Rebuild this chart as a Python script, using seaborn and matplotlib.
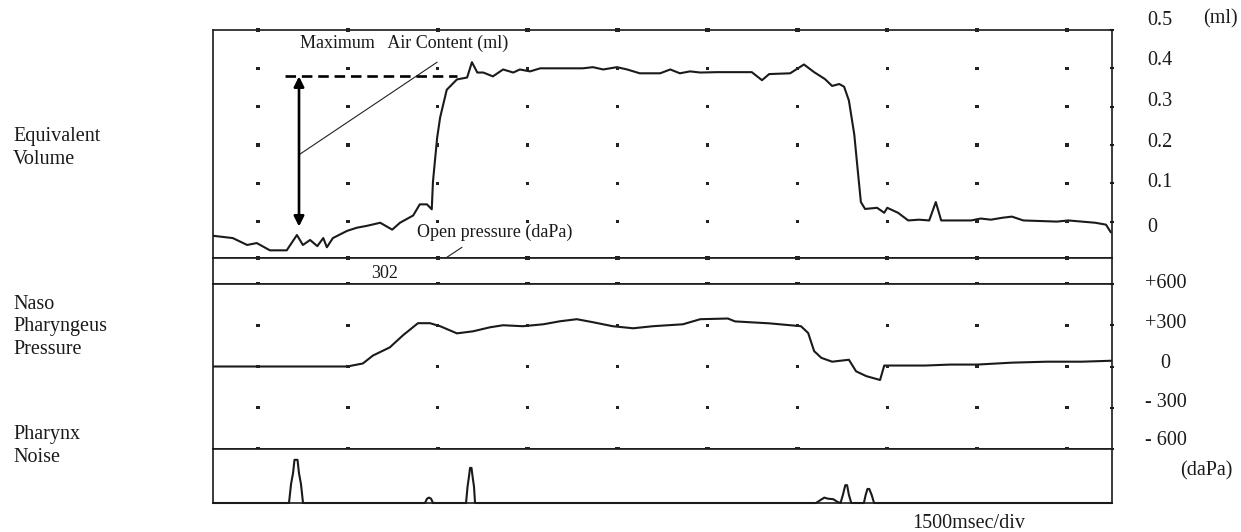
import matplotlib
matplotlib.use('Agg')
import matplotlib.pyplot as plt
from matplotlib.transforms import ScaledTranslation
import seaborn as sns
import pandas as pd

sns.set_theme(style='white')
plt.rcParams['font.family'] = ['Liberation Serif', 'DejaVu Serif']

# ---------------- data (time in seconds, 1500 ms per division) ----------------
vol_t = [0.00, 0.33, 0.57, 0.73, 0.95, 1.23, 1.40, 1.50, 1.62, 1.74, 1.84, 1.90, 2.00,
         2.24, 2.40, 2.57, 2.79, 2.99, 3.12, 3.34, 3.45, 3.57, 3.65, 3.67, 3.74, 3.79,
         3.90, 4.07, 4.24, 4.32, 4.41, 4.51, 4.67, 4.84, 5.01, 5.12, 5.29, 5.46, 6.17,
         6.34, 6.51, 6.74, 6.91, 7.12, 7.46, 7.63, 7.79, 7.96, 8.13, 8.41, 8.76, 8.99,
         9.16, 9.28, 9.63, 9.86, 10.03, 10.21, 10.33, 10.45, 10.53, 10.61, 10.70, 10.76,
         10.81, 10.88, 11.08, 11.20, 11.25, 11.43, 11.60, 11.78, 11.95, 12.06, 12.15,
         12.65, 12.81, 12.98, 13.17, 13.33, 13.52, 14.08, 14.27, 14.72, 14.90, 14.98]
vol_ml = [-0.037, -0.043, -0.061, -0.056, -0.075, -0.075, -0.035, -0.061, -0.048, -0.064,
          -0.043, -0.067, -0.043, -0.024, -0.016, -0.011, -0.003, -0.021, -0.003, 0.016,
          0.045, 0.045, 0.032, 0.104, 0.219, 0.272, 0.344, 0.371, 0.376, 0.416, 0.389,
          0.389, 0.379, 0.397, 0.389, 0.397, 0.392, 0.400, 0.400, 0.403, 0.397, 0.403,
          0.397, 0.387, 0.387, 0.397, 0.387, 0.392, 0.389, 0.390, 0.390, 0.390, 0.369,
          0.385, 0.387, 0.410, 0.390, 0.372, 0.354, 0.359, 0.352, 0.316, 0.227, 0.130,
          0.051, 0.033, 0.036, 0.023, 0.036, 0.023, 0.003, 0.005, 0.003, 0.051, 0.003,
          0.003, 0.008, 0.005, 0.010, 0.013, 0.003, 0.000, 0.003, -0.003, -0.008, -0.028]

pres_t = [0.00, 2.24, 2.50, 2.67, 2.95, 3.17, 3.42, 3.62, 3.79, 4.07, 4.34, 4.62, 4.84,
          5.17, 5.51, 5.79, 6.07, 6.34, 6.67, 7.01, 7.34, 7.84, 8.13, 8.59, 8.71, 9.28,
          9.81, 9.93, 10.03, 10.15, 10.33, 10.61, 10.73, 10.90, 11.13, 11.20, 11.36,
          11.88, 12.30, 12.75, 13.33, 13.92, 14.50, 15.00]
pres_dapa = [0, 0, 22, 80, 139, 227, 315, 315, 293, 241, 256, 285, 300, 293, 307, 329,
             344, 322, 293, 278, 293, 307, 344, 349, 328, 314, 293, 244, 112, 63, 35, 49,
             -35, -70, -98, 7, 7, 7, 14, 14, 28, 35, 35, 42]

noise_t = [0.00, 1.268, 1.302, 1.335, 1.360, 1.410, 1.435, 1.468, 1.502,
           3.537, 3.571, 3.604, 3.638, 3.671,
           4.222, 4.247, 4.272, 4.289, 4.313, 4.330, 4.355, 4.372,
           10.06, 10.13, 10.20, 10.26, 10.35, 10.42, 10.47, 10.51, 10.55, 10.58, 10.61, 10.65,
           10.86, 10.89, 10.92, 10.95, 10.99, 11.03, 15.00]
noise_level = [0.0, 0.0, 0.35, 0.55, 0.80, 0.80, 0.55, 0.35, 0.0,
               0.0, 0.08, 0.10, 0.08, 0.0,
               0.0, 0.30, 0.50, 0.65, 0.65, 0.50, 0.30, 0.0,
               0.0, 0.05, 0.10, 0.08, 0.07, 0.02, 0.0, 0.15, 0.33, 0.33, 0.15, 0.0,
               0.0, 0.15, 0.26, 0.26, 0.15, 0.0, 0.0]

grid_t = [0.75, 2.25, 3.75, 5.25, 6.75, 8.25, 9.75, 11.25, 12.75, 14.25]
vol_rows = [0.0, 0.1, 0.2, 0.3, 0.4]
vol_ticks = [0.0, 0.1, 0.2, 0.3, 0.4, 0.5]
vol_ticklabels = ['0', '0.1', '0.2', '0.3', '0.4', '0.5']
pres_rows = [-300, 0, 300]
pres_ticks = [-600, -300, 0, 300, 600]
pres_ticklabels = ['- 600', '- 300', '0', '+300', '+600']

max_air_ml = 0.379
max_air_base = -0.013
arrow_t = 1.435
dash_t = [1.20, 4.07]
open_pressure = '302'

# ---------------- layout ----------------
W_PX, H_PX = 1241, 532
fig = plt.figure(figsize=(W_PX / 100, H_PX / 100), dpi=100)
L = 213 / W_PX
W = (1112 - 213) / W_PX


def box(top, bottom):
    return [L, 1 - bottom / H_PX, W, (bottom - top) / H_PX]


ax_v = fig.add_axes(box(30, 258))
ax_s = fig.add_axes(box(258, 284))
ax_p = fig.add_axes(box(284, 449))
ax_n = fig.add_axes(box(449, 503))

LW_TRACE = 1.5
INK = '#1a1a1a'
for ax in (ax_v, ax_s, ax_p, ax_n):
    ax.set_xlim(0, 15)
    ax.set_facecolor('white')
    for sp in ax.spines.values():
        sp.set_visible(True)
        sp.set_color(INK)
        sp.set_linewidth(1.2)

ax_v.set_ylim(-0.095, 0.5)
ax_s.set_ylim(0, 1)
ax_p.set_ylim(-600, 600)
ax_n.set_ylim(0, 1)

FS = 14.5


def dots(ax, ys, s=7):
    df = pd.DataFrame([(t, y) for y in ys for t in grid_t], columns=['t', 'y'])
    sns.scatterplot(data=df, x='t', y='y', ax=ax, s=s, color='#222222',
                    edgecolor='none', marker='s', clip_on=False, zorder=4, legend=False)


dots(ax_v, vol_rows, s=6)
dots(ax_v, [0.5], s=10)
dots(ax_s, [0.0, 1.0], s=10)
dots(ax_p, pres_rows, s=6)
dots(ax_p, [-600], s=10)

# traces
sns.lineplot(x=vol_t, y=vol_ml, ax=ax_v, color=INK, lw=LW_TRACE,
             estimator=None, sort=False)
sns.lineplot(x=pres_t, y=pres_dapa, ax=ax_p, color=INK, lw=LW_TRACE,
             estimator=None, sort=False)
sns.lineplot(x=noise_t, y=noise_level, ax=ax_n, color=INK, lw=LW_TRACE,
             estimator=None, sort=False, clip_on=False)
for ax in (ax_v, ax_s, ax_p, ax_n):
    ax.set_xlabel('')
    ax.set_ylabel('')
    ax.set_xticks([])
ax_s.set_yticks([])
ax_n.set_yticks([])

# right-hand tick labels (the printed labels sit slightly off the grid rows)
ax_v.yaxis.tick_right()
ax_v.set_yticks(vol_ticks)
ax_v.set_yticklabels(vol_ticklabels, fontsize=FS)
ax_v.tick_params(axis='y', right=True, length=3, width=1.5, direction='inout',
                 pad=24, colors=INK)
ax_p.yaxis.tick_right()
ax_p.set_yticks(pres_ticks)
ax_p.set_yticklabels(pres_ticklabels, fontsize=FS)
ax_p.tick_params(axis='y', right=True, length=3, width=1.5, direction='inout',
                 pad=37, colors=INK)
for lab in ax_p.get_yticklabels():
    lab.set_horizontalalignment('center')

vol_label_shift_px = [-3, 3, 5, 8, 10, 12]
pres_label_shift_px = [11, 8, 6, 4, 3]
for ax, shifts in ((ax_v, vol_label_shift_px), (ax_p, pres_label_shift_px)):
    for tick, dy in zip(ax.yaxis.get_major_ticks(), shifts):
        lab = tick.label2
        lab.set_transform(lab.get_transform() +
                          ScaledTranslation(0, dy / 100, fig.dpi_scale_trans))

# annotations in the volume panel
ax_v.plot(dash_t, [max_air_ml, max_air_ml], color='black', lw=1.9,
          ls=(0, (4, 2.2)), zorder=5)
ax_v.annotate('', xy=(arrow_t, max_air_ml), xytext=(arrow_t, max_air_base),
              arrowprops=dict(arrowstyle='<|-|>', lw=1.9, color='black',
                              mutation_scale=15, shrinkA=0, shrinkB=0), zorder=5)
ax_v.text(1.45, 0.464, 'Maximum   Air Content (ml)', fontsize=13, ha='left',
          va='center', color=INK)
ax_v.plot([1.45, 3.74], [0.176, 0.416], color='#222222', lw=0.8)
ax_v.text(3.40, -0.029, 'Open pressure (daPa)', fontsize=13, ha='left',
          va='center', color=INK, zorder=6)
ax_v.annotate('', xy=(3.504, 0.42), xycoords=ax_s.transData,
              xytext=(4.155, -0.067), textcoords=ax_v.transData,
              arrowprops=dict(arrowstyle='-', lw=0.8, color='#222222',
                              shrinkA=0, shrinkB=0), annotation_clip=False)
ax_s.text(2.87, 0.42, open_pressure, fontsize=13, ha='center', va='center',
          color=INK)

# left labels
fig.text(13 / W_PX, 1 - 148 / H_PX, 'Equivalent\nVolume', fontsize=FS,
         ha='left', va='center', linespacing=1.25, color=INK)
fig.text(13 / W_PX, 1 - 327 / H_PX, 'Naso\nPharyngeus\nPressure', fontsize=FS,
         ha='left', va='center', linespacing=1.25, color=INK)
fig.text(13 / W_PX, 1 - 446 / H_PX, 'Pharynx\nNoise', fontsize=FS,
         ha='left', va='center', linespacing=1.25, color=INK)

# unit labels
fig.text(1203 / W_PX, 1 - 19 / H_PX, '(ml)', fontsize=FS, ha='left', va='center',
         color=INK)
fig.text(1180 / W_PX, 1 - 471 / H_PX, '(daPa)', fontsize=FS, ha='left', va='center',
         color=INK)
fig.text(969 / W_PX, 1 - 523 / H_PX, '1500msec/div', fontsize=FS, ha='center',
         va='center', color=INK)

fig.savefig('out.png', dpi=100, facecolor='white')
